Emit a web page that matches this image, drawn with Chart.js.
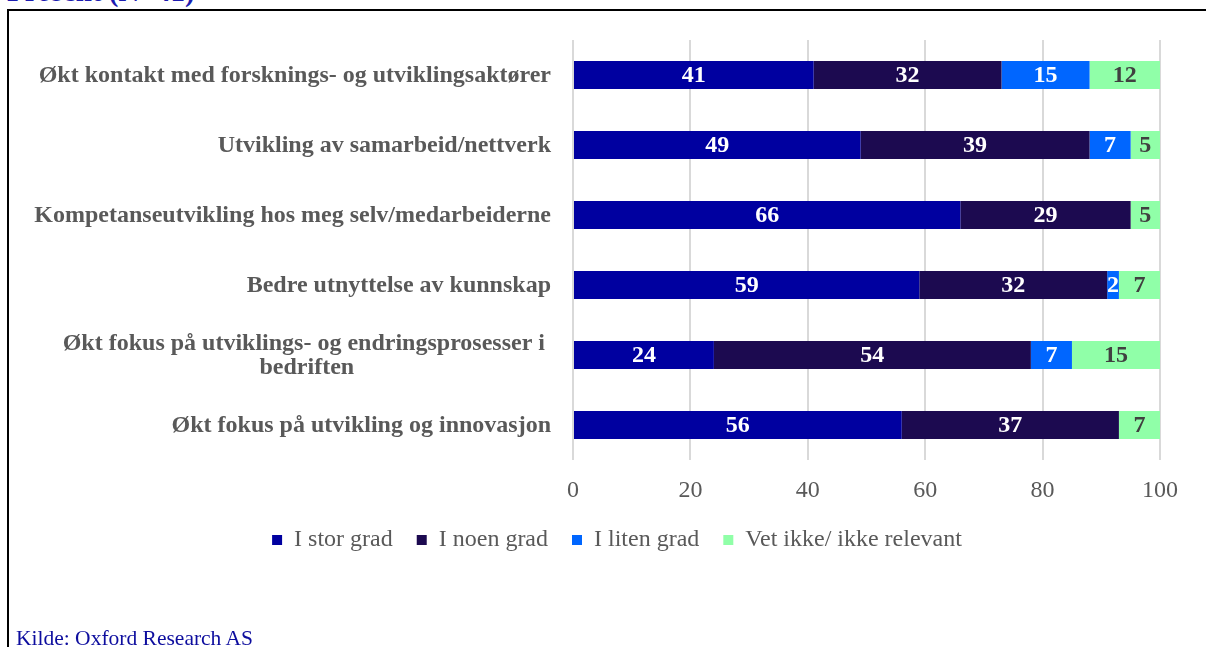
<!DOCTYPE html>
<html>
<head>
<meta charset="utf-8">
<script src="https://cdn.jsdelivr.net/npm/chart.js@4.4.1/dist/chart.umd.min.js"></script>
<style>
  html, body { margin: 0; padding: 0; background: #fff; overflow: hidden; }
  body { width: 1206px; height: 647px; position: relative; font-family: "Liberation Serif", serif; }
  #frame { position: absolute; left: 7px; top: 9px; width: 1300px; height: 800px;
           border-left: 2px solid #000; border-top: 2px solid #000; box-sizing: border-box; }
  #title { position: absolute; left: 7px; top: -23px; font: bold 29px/28px "Liberation Serif", serif;
           color: #1c1cb0; white-space: nowrap; }
  #source { position: absolute; left: 16px; top: 628px; font: 21.5px/21px "Liberation Serif", serif;
            color: #0d0d9e; white-space: nowrap; }
  #c { position: absolute; left: 0; top: 0; }
</style>
</head>
<body>
<div id="frame"></div>
<div id="title">Prosent (N=41)</div>
<canvas id="c" width="1206" height="647"></canvas>
<div id="source">Kilde: Oxford Research AS</div>
<script>
const categories = [
  ["Økt kontakt med forsknings- og utviklingsaktører"],
  ["Utvikling av samarbeid/nettverk"],
  ["Kompetanseutvikling hos meg selv/medarbeiderne"],
  ["Bedre utnyttelse av kunnskap"],
  ["Økt fokus på utviklings- og endringsprosesser i ", "bedriften"],
  ["Økt fokus på utvikling og innovasjon"]
];
const seriesNames = ["I stor grad", "I noen grad", "I liten grad", "Vet ikke/ ikke relevant"];
const storGrad   = [41, 49, 66, 59, 24, 56];
const noenGrad   = [32, 39, 29, 32, 54, 37];
const litenGrad  = [15, 7, 0, 2, 7, 0];
const vetIkke    = [12, 5, 5, 7, 15, 7];
const xTicks = [0, 20, 40, 60, 80, 100];

const colors = ["#0000a0", "#1c0a50", "#0066ff", "#90ffa8"];
const labelColors = ["#ffffff", "#ffffff", "#ffffff", "#404040"];
const FONT = "Liberation Serif";

const valueLabels = {
  id: "valueLabels",
  afterDatasetsDraw(chart) {
    const ctx = chart.ctx;
    ctx.save();
    ctx.font = "bold 24px '" + FONT + "'";
    ctx.textAlign = "center";
    ctx.textBaseline = "middle";
    chart.data.datasets.forEach((ds, di) => {
      const meta = chart.getDatasetMeta(di);
      meta.data.forEach((el, i) => {
        const v = ds.data[i];
        if (!v) return;
        const p = el.getProps(["x", "y", "base"], true);
        ctx.fillStyle = labelColors[di];
        ctx.fillText(String(v), (p.x + p.base) / 2, p.y + 1);
      });
    });
    ctx.restore();
  }
};

const categoryLabels = {
  id: "categoryLabels",
  afterDraw(chart) {
    const ctx = chart.ctx;
    const ys = chart.scales.y;
    const right = chart.chartArea.left - 22;
    ctx.save();
    ctx.font = "bold 24px '" + FONT + "'";
    ctx.fillStyle = "#595959";
    ctx.textBaseline = "middle";
    ctx.textAlign = "center";
    categories.forEach((lines, i) => {
      const yc = ys.getPixelForValue(i);
      const w = Math.max(...lines.map(l => ctx.measureText(l).width));
      const cx = right - w / 2;
      const lh = 24;
      const y0 = yc - (lines.length - 1) * lh / 2;
      lines.forEach((l, k) => ctx.fillText(l, cx, y0 + k * lh + 1));
    });
    ctx.restore();
  }
};

const seriesData = [storGrad, noenGrad, litenGrad, vetIkke];

new Chart(document.getElementById("c"), {
  type: "bar",
  data: {
    labels: categories.map(c => c.join(" ")),
    datasets: seriesNames.map((n, i) => ({
      label: n,
      data: seriesData[i],
      backgroundColor: colors[i],
      borderWidth: 0,
      barPercentage: 0.4,
      categoryPercentage: 1.0
    }))
  },
  options: {
    indexAxis: "y",
    responsive: false,
    animation: false,
    devicePixelRatio: 1,
    layout: { padding: { left: 74, right: 46, top: 40, bottom: 85 } },
    scales: {
      x: {
        stacked: true,
        min: 0, max: 100,
        afterBuildTicks(scale) { scale.ticks = xTicks.map(v => ({ value: v })); },
        afterFit(scale) { scale.height = 44; },
        grid: { color: "#d9d9d9", lineWidth: 2, drawTicks: false },
        border: { display: false },
        ticks: { padding: 16, color: "#595959", font: { family: FONT, size: 24 } }
      },
      y: {
        stacked: true,
        grid: { display: false, drawTicks: false },
        border: { display: false },
        ticks: { display: false },
        afterFit(scale) { scale.width = 499; }
      }
    },
    plugins: {
      legend: {
        position: "bottom",
        labels: {
          boxWidth: 10, boxHeight: 10, padding: 24,
          color: "#595959",
          font: { family: FONT, size: 24 }
        }
      },
      tooltip: { enabled: false }
    }
  },
  plugins: [valueLabels, categoryLabels]
});
</script>
</body>
</html>
